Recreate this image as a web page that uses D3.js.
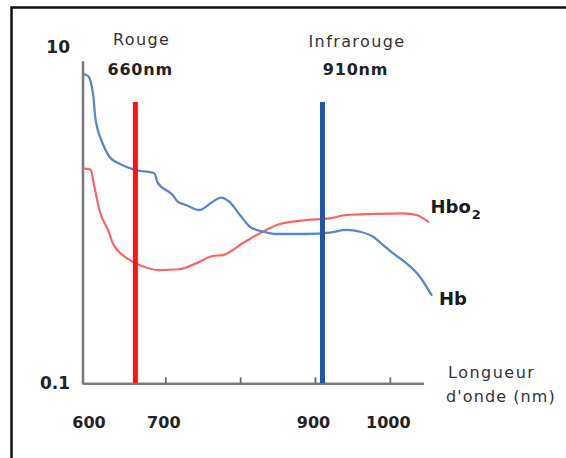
<!DOCTYPE html>
<html>
<head>
<meta charset="utf-8">
<script src="https://cdn.jsdelivr.net/npm/d3@7"></script>
<style>
  html, body { margin: 0; padding: 0; background: #fff; }
  svg { display: block; font-family: "DejaVu Sans", Verdana, sans-serif; }
</style>
</head>
<body>
<svg id="chart" width="566" height="458"></svg>
<script>
// Absorption spectra of deoxygenated (Hb) and oxygenated (HbO2) haemoglobin
const wavelengthsHb = [591.5, 596.8, 600.5, 603.9, 606.1, 609.0, 612.8, 618.0, 625.2, 639.5, 660.9, 685.3, 689.9,
  709.9, 716.6, 727.6, 745.4, 763.3, 774.4, 785.4, 799.7, 813.1, 830.8, 847.8, 888.8,
  919.9, 942.2, 959.9, 977.7, 991.1, 1004.4, 1022.3, 1040.1, 1055.7];
const absorbanceHb = [6.88, 6.70, 6.15, 5.05, 3.9, 3.3, 2.91, 2.55, 2.22, 2.01, 1.85, 1.77, 1.55,
  1.315, 1.20, 1.147, 1.071, 1.20, 1.27, 1.20, 1.0, 0.852, 0.796, 0.771, 0.771,
  0.785, 0.815, 0.796, 0.743, 0.663, 0.592, 0.516, 0.43, 0.335];

const wavelengthsHbO2 = [591.5, 600.1, 605.2, 611.9, 625.2, 629.8, 643.1, 660.9, 692.0, 718.7,
  741.0, 763.3, 776.6, 803.3, 830.0, 853.1, 888.8, 919.9, 942.2, 977.7, 1017.8, 1035.6, 1051.1];
const absorbanceHbO2 = [1.89, 1.86, 1.47, 1.07, 0.778, 0.679, 0.578, 0.516, 0.471, 0.476,
  0.516, 0.571, 0.578, 0.679, 0.796, 0.884, 0.934, 0.956, 1.0, 1.014, 1.023, 1.0, 0.912];

// Emitter wavelengths
const emitterNames = ["Rouge", "Infrarouge"];
const emitterWavelengths = [660, 910];
const emitterLabels = ["660nm", "910nm"];
const emitterColors = ["#ff1414", "#1f56a6"];
const emitterTop = 4.7;

// Axis ticks
const xTickMarks = [700, 800, 900, 1000];
const xTickLabels = [600, 700, 900, 1000];
const yTickLabels = [0.1, 10];
const yAxisTop = 8.2;

const svg = d3.select("#chart");

// page frame
svg.append("rect")
  .attr("x", 11.5).attr("y", 7.5)
  .attr("width", 700).attr("height", 600)
  .attr("fill", "none").attr("stroke", "#111").attr("stroke-width", 2.5);

const x = d3.scaleLinear().domain([590, 1045]).range([83, 423.5]);
const y = d3.scaleLog().domain([0.1, 10]).range([383.3, 46.7]);

// x axis: inward tick marks
const xAxis = svg.append("g")
  .attr("transform", `translate(0,${y(0.1)})`)
  .call(d3.axisBottom(x).tickValues(xTickMarks).tickSizeInner(-6).tickSizeOuter(0).tickFormat(""));
xAxis.select(".domain").attr("stroke", "#7c7c7c").attr("stroke-width", 2.6);
xAxis.selectAll(".tick line").attr("stroke", "#6a6a6a").attr("stroke-width", 1.8);

// x tick labels
const xLab = svg.append("g")
  .attr("transform", `translate(-2,${y(0.1)})`)
  .call(d3.axisBottom(x).tickValues(xTickLabels).tickSize(0).tickPadding(33).tickFormat(d3.format("d")));
xLab.select(".domain").remove();
xLab.selectAll("text")
  .attr("font-family", "DejaVu Sans, sans-serif")
  .attr("font-size", 16).attr("font-weight", "bold").attr("fill", "#222");

// y axis line
svg.append("line")
  .attr("x1", x(590)).attr("x2", x(590))
  .attr("y1", y(yAxisTop)).attr("y2", y(0.1) + 1.3)
  .attr("stroke", "#7c7c7c").attr("stroke-width", 2.6);

// y tick labels
const yLab = svg.append("g")
  .attr("transform", `translate(${x(590)},0)`)
  .call(d3.axisLeft(y).tickValues(yTickLabels).tickSize(0).tickPadding(13).tickFormat(d => d < 1 ? "0.1" : "10"));
yLab.select(".domain").remove();
yLab.selectAll("text")
  .attr("font-family", "DejaVu Sans, sans-serif")
  .attr("font-size", 17).attr("font-weight", "bold").attr("fill", "#222");

// spectra
const line = d3.line()
  .x(d => x(d[0]))
  .y(d => y(d[1]))
  .curve(d3.curveMonotoneX);

svg.append("path")
  .datum(d3.zip(wavelengthsHbO2, absorbanceHbO2))
  .attr("d", line)
  .attr("fill", "none").attr("stroke", "#ff6262").attr("stroke-width", 2.2)
  .attr("stroke-linejoin", "round").attr("stroke-linecap", "round");

svg.append("path")
  .datum(d3.zip(wavelengthsHb, absorbanceHb))
  .attr("d", line)
  .attr("fill", "none").attr("stroke", "#5589c9").attr("stroke-width", 2.3)
  .attr("stroke-linejoin", "round").attr("stroke-linecap", "round");

// emitter lines
svg.selectAll(".emitter")
  .data(emitterWavelengths)
  .join("line")
  .attr("class", "emitter")
  .attr("x1", d => x(d)).attr("x2", d => x(d))
  .attr("y1", y(emitterTop)).attr("y2", y(0.1))
  .attr("stroke", (d, i) => emitterColors[i])
  .attr("stroke-width", 5);

// emitter captions
const captionX = [141.7, 357];
const nameY = [45, 47];
svg.selectAll(".emName")
  .data(emitterNames)
  .join("text")
  .attr("class", "emName")
  .attr("x", (d, i) => captionX[i]).attr("y", (d, i) => nameY[i])
  .attr("text-anchor", "middle")
  .attr("font-size", 16).attr("letter-spacing", 1.4).attr("fill", "#333")
  .text(d => d);
svg.selectAll(".emLabel")
  .data(emitterLabels)
  .join("text")
  .attr("class", "emLabel")
  .attr("x", (d, i) => captionX[i] - 1.5).attr("y", 74.5)
  .attr("text-anchor", "middle")
  .attr("font-size", 16).attr("font-weight", "bold").attr("letter-spacing", 0.8).attr("fill", "#222")
  .text(d => d);

// series labels
const hbo = svg.append("text")
  .attr("x", 430.5).attr("y", 213.3)
  .attr("font-size", 18).attr("font-weight", "bold").attr("fill", "#1a1a1a");
hbo.append("tspan").text("Hbo");
hbo.append("tspan").attr("font-size", 13).attr("dy", 6).attr("dx", 1).text("2");

svg.append("text")
  .attr("x", 439).attr("y", 305)
  .attr("font-size", 18).attr("font-weight", "bold").attr("fill", "#1a1a1a")
  .text("Hb");

// axis title
const title = svg.append("text")
  .attr("font-size", 16).attr("fill", "#333").attr("letter-spacing", 1.5);
title.append("tspan").attr("x", 448).attr("y", 377.5).text("Longueur");
title.append("tspan").attr("x", 446).attr("y", 401.5).attr("letter-spacing", 1.1).text("d'onde (nm)");
</script>
</body>
</html>
